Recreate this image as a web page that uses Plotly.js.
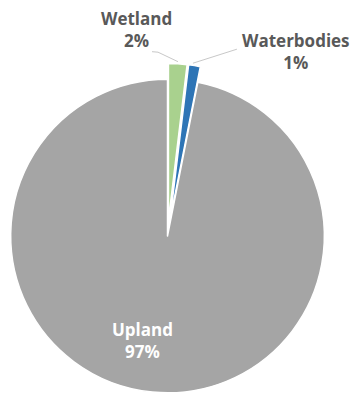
<!DOCTYPE html>
<html>
<head>
<meta charset="utf-8">
<script src="https://cdn.plot.ly/plotly-3.0.1.min.js"></script>
<style>
  html, body { margin: 0; padding: 0; width: 358px; height: 398px; overflow: hidden; background: #fff; }
  #chart { position: absolute; left: -20px; top: -20px; width: 398px; height: 438px; }
</style>
</head>
<body>
<div id="chart"></div>
<script>
// ---- data ----
var categories = ['Wetland', 'Waterbodies', 'Upland'];
var values = [1.9, 1.2, 96.9];
var colors = ['#A9D18E', '#2E75B6', '#A5A5A5'];
var pulls = [0.1, 0.1, 0];

// ---- layout geometry (page offset of the plotting div = 20px) ----
var OFF = 20, W = 398, H = 438;
var M = { l: 14.8, r: 37.8, t: 83.3, b: 9.3 };
var PW = W - M.l - M.r, PH = H - M.t - M.b;
function px(x) { return (x + OFF - M.l) / PW; }
function py(y) { return 1 - (y + OFF - M.t) / PH; }

var total = values.reduce(function (a, b) { return a + b; }, 0);
function pct(i) { return Math.round(values[i] / total * 100) + '%'; }

var font = 'Open Sans, sans-serif';
var labelPos = [
  { x: 136, y: 29.5, color: '#595959' },
  { x: 296.5, y: 52, color: '#595959' },
  { x: 142, y: 340, color: '#FFFFFF' }
];
var annotations = categories.map(function (c, i) {
  return {
    xref: 'paper', yref: 'paper', x: px(labelPos[i].x), y: py(labelPos[i].y),
    xanchor: 'center', yanchor: 'middle', showarrow: false,
    text: '<b>' + c + '</b><br><b>' + pct(i) + '</b>',
    font: { family: font, size: 17, color: labelPos[i].color }
  };
});

function seg(pts) {
  var d = pts.map(function (p, k) {
    return (k ? 'L' : 'M') + px(p[0]) + ',' + py(p[1]);
  }).join(' ');
  return { type: 'path', xref: 'paper', yref: 'paper', path: d,
           line: { color: '#C8C8C8', width: 1 } };
}
var shapes = [
  seg([[152, 52], [158, 52.5], [178, 62]]),
  seg([[237, 49.5], [193, 63.5]])
];

var trace = {
  type: 'pie',
  labels: categories,
  values: values,
  sort: false,
  direction: 'clockwise',
  rotation: 0,
  pull: pulls,
  marker: { colors: colors, line: { color: '#FFFFFF', width: 1.5 } },
  textinfo: 'none',
  hoverinfo: 'label+percent',
  showlegend: false
};

var layout = {
  width: W, height: H,
  margin: M,
  paper_bgcolor: '#FFFFFF',
  plot_bgcolor: '#FFFFFF',
  showlegend: false,
  annotations: annotations,
  shapes: shapes,
  font: { family: font }
};

Plotly.newPlot('chart', [trace], layout, { displayModeBar: false, staticPlot: true });
</script>
</body>
</html>
